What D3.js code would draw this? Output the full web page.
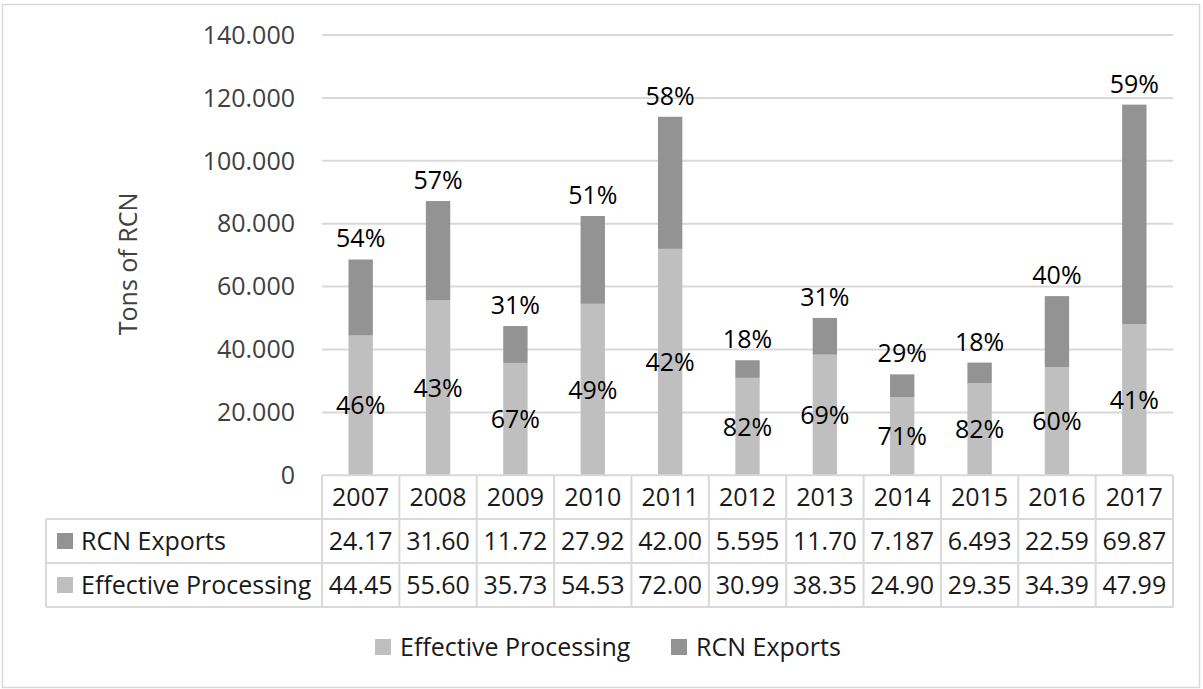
<!DOCTYPE html>
<html>
<head>
<meta charset="utf-8">
<script src="https://cdn.jsdelivr.net/npm/d3@7/dist/d3.min.js"></script>
<style>
  html, body { margin: 0; padding: 0; background: #fff; }
  svg { display: block; font-family: "Open Sans", "Noto Sans", sans-serif; }
</style>
</head>
<body>
<svg id="chart" width="1203" height="689"></svg>
<script>
// Cashew (RCN) volumes per year, thousand tons
const years = ["2007","2008","2009","2010","2011","2012","2013","2014","2015","2016","2017"];
const processing = [44.45, 55.60, 35.73, 54.53, 72.00, 30.99, 38.35, 24.90, 29.35, 34.39, 47.99];
const exportsRCN = [24.17, 31.60, 11.72, 27.92, 42.00, 5.595, 11.70, 7.187, 6.493, 22.59, 69.87];
// Printed table strings (as published)
const processingText = ["44.45","55.60","35.73","54.53","72.00","30.99","38.35","24.90","29.35","34.39","47.99"];
const exportsText = ["24.17","31.60","11.72","27.92","42.00","5.595","11.70","7.187","6.493","22.59","69.87"];
// Share labels shown on the segments
const processingPct = ["46%","43%","67%","49%","42%","82%","69%","71%","82%","60%","41%"];
const exportsPct = ["54%","57%","31%","51%","58%","18%","31%","29%","18%","40%","59%"];
const yTicks = [0, 20, 40, 60, 80, 100, 120, 140];
const yTickLabels = ["0","20.000","40.000","60.000","80.000","100.000","120.000","140.000"];

const series = [
  { name: "Effective Processing", values: processing, color: "#bfbfbf" },
  { name: "RCN Exports", values: exportsRCN, color: "#939393" }
];

const svg = d3.select("#chart");
const FS = 25;

// outer frame
svg.append("rect").attr("x", 2.5).attr("y", 4.5).attr("width", 1197).attr("height", 683)
  .attr("fill", "#fff").attr("stroke", "#d9d9d9").attr("stroke-width", 1.5);

const plot = { left: 322, right: 1173, top: 35, bottom: 475.3 };

const x = d3.scaleBand().domain(years).range([plot.left, plot.right]).paddingInner(0).paddingOuter(0);
const y = d3.scaleLinear().domain([0, 140]).range([plot.bottom, plot.top]);
const barW = x.bandwidth() * 0.315;

// gridlines
svg.append("g").selectAll("line").data(yTicks.filter(d => d > 0)).join("line")
  .attr("x1", plot.left).attr("x2", plot.right)
  .attr("y1", d => y(d)).attr("y2", d => y(d))
  .attr("stroke", "#d9d9d9").attr("stroke-width", 2);

// y tick labels
svg.append("g").selectAll("text").data(yTicks).join("text")
  .attr("x", 295).attr("y", d => y(d)).attr("dy", "0.35em")
  .attr("text-anchor", "end").attr("font-size", FS).attr("fill", "#404040")
  .text((d, i) => yTickLabels[i]);

// y axis title
svg.append("text")
  .attr("transform", `translate(137,264) rotate(-90)`)
  .attr("text-anchor", "middle").attr("font-size", FS).attr("fill", "#404040")
  .text("Tons of RCN");

// stacked bars
const stackData = years.map((yr, i) => ({ year: yr, "Effective Processing": processing[i], "RCN Exports": exportsRCN[i] }));
const stacked = d3.stack().keys(series.map(s => s.name))(stackData);

stacked.forEach((layer, li) => {
  svg.append("g").selectAll("rect").data(layer).join("rect")
    .attr("x", d => x(d.data.year) + (x.bandwidth() - barW) / 2)
    .attr("width", barW)
    .attr("y", d => y(d[1]))
    .attr("height", d => y(d[0]) - y(d[1]))
    .attr("fill", series[li].color);
});

// segment labels: processing centered, exports above the stack
svg.append("g").selectAll("text").data(stacked[0]).join("text")
  .attr("x", d => x(d.data.year) + x.bandwidth() / 2)
  .attr("y", d => (y(d[0]) + y(d[1])) / 2).attr("dy", "0.36em")
  .attr("text-anchor", "middle").attr("font-size", FS).attr("fill", "#000")
  .text((d, i) => processingPct[i]);

svg.append("g").selectAll("text").data(stacked[1]).join("text")
  .attr("x", d => x(d.data.year) + x.bandwidth() / 2)
  .attr("y", d => y(d[1]) - 12)
  .attr("text-anchor", "middle").attr("font-size", FS).attr("fill", "#000")
  .text((d, i) => exportsPct[i]);

// data table
const rowTops = [475.3, 519, 563, 607];
const labelLeft = 46;
const gridColor = "#d9d9d9";
const tbl = svg.append("g");

// horizontal table lines
tbl.append("line").attr("x1", plot.left).attr("x2", plot.right).attr("y1", rowTops[0]).attr("y2", rowTops[0])
  .attr("stroke", gridColor).attr("stroke-width", 2);
rowTops.slice(1).forEach(t => {
  tbl.append("line").attr("x1", labelLeft).attr("x2", plot.right).attr("y1", t).attr("y2", t)
    .attr("stroke", gridColor).attr("stroke-width", 2);
});
// vertical table lines
const colEdges = years.map(yr => x(yr)).concat([plot.right]);
tbl.selectAll("line.v").data(colEdges).join("line").attr("class", "v")
  .attr("x1", d => d).attr("x2", d => d).attr("y1", rowTops[0]).attr("y2", rowTops[3])
  .attr("stroke", gridColor).attr("stroke-width", 2);
tbl.append("line").attr("x1", labelLeft).attr("x2", labelLeft).attr("y1", rowTops[1]).attr("y2", rowTops[3])
  .attr("stroke", gridColor).attr("stroke-width", 2);

const rowMid = i => (rowTops[i] + rowTops[i + 1]) / 2;

tbl.append("g").selectAll("text").data(years).join("text")
  .attr("x", d => x(d) + x.bandwidth() / 2).attr("y", rowMid(0)).attr("dy", "0.36em")
  .attr("text-anchor", "middle").attr("font-size", FS).attr("fill", "#1a1a1a").text(d => d);

const tableRows = [
  { name: "RCN Exports", text: exportsText, color: "#939393" },
  { name: "Effective Processing", text: processingText, color: "#bfbfbf" }
];
tableRows.forEach((r, ri) => {
  const my = rowMid(ri + 1);
  tbl.append("rect").attr("x", 57).attr("y", my - 8).attr("width", 16).attr("height", 16).attr("fill", r.color);
  tbl.append("text").attr("x", 81).attr("y", my).attr("dy", "0.36em")
    .attr("font-size", FS).attr("fill", "#1a1a1a").text(r.name);
  tbl.append("g").selectAll("text").data(r.text).join("text")
    .attr("x", (d, i) => x(years[i]) + x.bandwidth() / 2).attr("y", my).attr("dy", "0.36em")
    .attr("text-anchor", "middle").attr("font-size", FS).attr("fill", "#1a1a1a").text(d => d);
});

// legend
const legendItems = [
  { name: "Effective Processing", color: "#bfbfbf", x: 375 },
  { name: "RCN Exports", color: "#939393", x: 671 }
];
const lg = svg.append("g").selectAll("g").data(legendItems).join("g")
  .attr("transform", d => `translate(${d.x},647)`);
lg.append("rect").attr("x", 0).attr("y", -8).attr("width", 16).attr("height", 16).attr("fill", d => d.color);
lg.append("text").attr("x", 25).attr("y", 0).attr("dy", "0.36em")
  .attr("font-size", FS).attr("fill", "#1a1a1a").text(d => d.name);
</script>
</body>
</html>
